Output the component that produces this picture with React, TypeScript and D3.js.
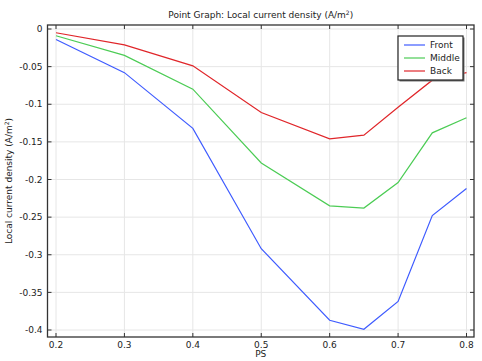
import React from "react";
import * as d3 from "d3";

const xs = [0.2, 0.3, 0.4, 0.5, 0.6, 0.65, 0.7, 0.75, 0.8];
const front = [-0.014, -0.058, -0.132, -0.292, -0.387, -0.399, -0.362, -0.248, -0.212];
const middle = [-0.009, -0.035, -0.08, -0.178, -0.235, -0.238, -0.204, -0.138, -0.118];
const back = [-0.005, -0.021, -0.049, -0.111, -0.146, -0.141, -0.104, -0.068, -0.058];
const seriesNames = ["Front", "Middle", "Back"];
const seriesColors = ["#3f5cff", "#4ccc55", "#e0262a"];
const xTicks = [0.2, 0.3, 0.4, 0.5, 0.6, 0.7, 0.8];
const yTicks = [0, -0.05, -0.1, -0.15, -0.2, -0.25, -0.3, -0.35, -0.4];

const W = 482, H = 361;
const L = 47.5, R = 474, T = 25, B = 337;
const font = "DejaVu Sans, sans-serif";

export default function App() {
  const x = d3.scaleLinear().domain([0.2, 0.8]).range([56, 466.5]);
  const y = d3.scaleLinear().domain([0, -0.4]).range([29, 330]);
  const series = [front, middle, back];
  const line = d3.line<number>().x((_, i) => x(xs[i])).y((d) => y(d));
  const fmt = (v: number) => (v === 0 ? "0" : String(+v.toFixed(2)));
  return (
    <svg width={W} height={H} style={{ position: "absolute", left: 0, top: 0, background: "#fff" }} fontFamily={font}>
      <rect x={0} y={0} width={W} height={H} fill="#fff" />
      {xTicks.map((t) => (
        <line key={"gx" + t} x1={x(t)} x2={x(t)} y1={T} y2={B} stroke="#e6e6e6" strokeWidth={1} />
      ))}
      {yTicks.map((t) => (
        <line key={"gy" + t} x1={L} x2={R} y1={y(t)} y2={y(t)} stroke="#e6e6e6" strokeWidth={1} />
      ))}
      <defs>
        <clipPath id="clip">
          <rect x={L} y={T} width={R - L} height={B - T} />
        </clipPath>
      </defs>
      <g clipPath="url(#clip)">
        {series.map((s, i) => (
          <path key={i} d={line(s) || ""} fill="none" stroke={seriesColors[i]} strokeWidth={1.2} />
        ))}
      </g>
      {xTicks.map((t) => (
        <g key={"tx" + t}>
          <line x1={x(t)} x2={x(t)} y1={B} y2={B - 4} stroke="#333" />
          <line x1={x(t)} x2={x(t)} y1={T} y2={T + 4} stroke="#333" />
          <text x={x(t)} y={B + 11} fontSize={9} textAnchor="middle" fill="#222">{fmt(t)}</text>
        </g>
      ))}
      {yTicks.map((t) => (
        <g key={"ty" + t}>
          <line x1={L} x2={L + 4} y1={y(t)} y2={y(t)} stroke="#333" />
          <line x1={R} x2={R - 4} y1={y(t)} y2={y(t)} stroke="#333" />
          <text x={L - 5} y={y(t) + 3.2} fontSize={9} textAnchor="end" fill="#222">{fmt(t)}</text>
        </g>
      ))}
      <rect x={L} y={T} width={R - L} height={B - T} fill="none" stroke="#333" strokeWidth={1.3} />
      <text x={(L + R) / 2} y={B + 20} fontSize={9} textAnchor="middle" fill="#222">PS</text>
      <text x={(L + R) / 2} y={18} fontSize={9} textAnchor="middle" fill="#222">
        Point Graph: Local current density (A/m<tspan dy={-3.5} fontSize={6}>2</tspan><tspan dy={3.5}>)</tspan>
      </text>
      <text transform={`translate(12, ${(T + B) / 2}) rotate(-90)`} fontSize={9} textAnchor="middle" fill="#222">
        Local current density (A/m<tspan dy={-3.5} fontSize={6}>2</tspan><tspan dy={3.5}>)</tspan>
      </text>
      <g>
        <rect x={399.5} y={37.5} width={65} height={44} fill="#777" />
        <rect x={398} y={36} width={65} height={44} fill="#fff" stroke="#222" strokeWidth={1.2} />
        {seriesNames.map((n, i) => (
          <g key={n}>
            <line x1={404} x2={425} y1={45 + i * 13} y2={45 + i * 13} stroke={seriesColors[i]} strokeWidth={1.2} />
            <text x={430} y={48.3 + i * 13} fontSize={9} fill="#222">{n}</text>
          </g>
        ))}
      </g>
    </svg>
  );
}
